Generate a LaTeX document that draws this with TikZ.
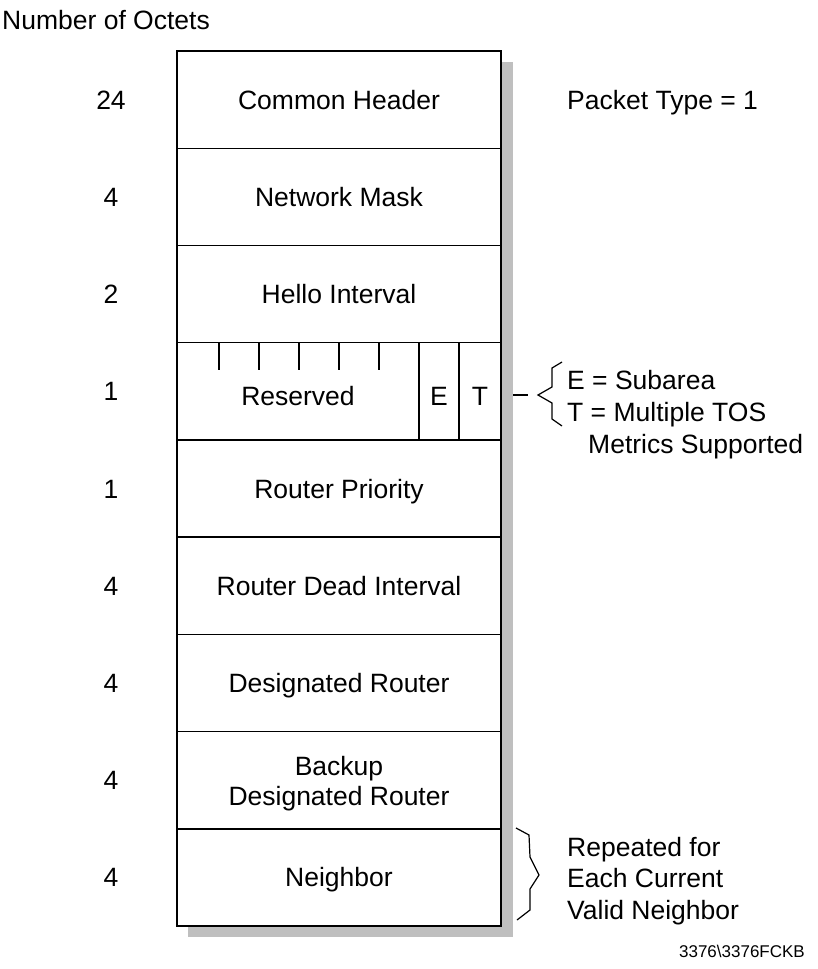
\documentclass[tikz,border=0pt]{standalone}
\usepackage{fontspec}
\setmainfont{Liberation Sans}
\tikzset{
  box/.style={draw,line width=1.4pt,fill=white,minimum width=324pt,minimum height=97.2pt,
    inner sep=0pt,align=center,font=\fontsize{26.5}{30}\selectfont},
  field/.style={box,text height=19pt,text depth=0pt},
  cell/.style={box,minimum width=40pt},
  octets/.style={font=\fontsize{26.5}{30}\selectfont,text height=19pt,text depth=0pt},
  note/.style={anchor=west,inner sep=0pt,font=\fontsize{26.5}{30}\selectfont,
    text height=19pt,text depth=0pt}
}
\begin{document}
\begin{tikzpicture}[x=1pt,y=-1pt]
  \useasboundingbox (0,0) rectangle (818,969);
  % shadow
  \fill[black!25] (188,62) rectangle (513,937);
  % rows
  \node[field] (hdr) at (339,99.6) {Common Header};
  \node[field] (mask) at (339,196.8) {Network Mask};
  \node[field] (hello) at (339,294.0) {Hello Interval};
  \node[box] (resv) at (339,391.3) {};
  \node[field] (prio) at (339,488.5) {Router Priority};
  \node[field] (dead) at (339,585.7) {Router Dead Interval};
  \node[field] (dr) at (339,682.9) {Designated Router};
  \node[box] (bdr) at (339,780.1) {};
  \node[align=center,font=\fontsize{26.5}{30}\selectfont] (bdrtxt) at (339,784)
    {Backup\\Designated Router};
  \node[field] (nbr) at (339,877.4) {Neighbor};
  % reserved bits
  \node[cell] (ebit) at (439,391.3) {};
  \node[cell,minimum width=42pt] (tbit) at (480,391.3) {};
  \node[octets] (etxt) at (ebit |- 0,396) {E};
  \node[octets] (ttxt) at (tbit |- 0,396) {T};
  \node[octets] (resvtxt) at (298,396) {Reserved};
  \foreach \x in {219,259,299,339,379}
    \draw[line width=1.4pt] (\x,342) -- (\x,370);
  % octet counts
  \node[octets,anchor=west,inner sep=0pt] (title) at (2,20) {Number of Octets};
  \node[octets] (n1) at (111,99.6) {24};
  \node[octets] (n2) at (111,196.8) {4};
  \node[octets] (n3) at (111,294.0) {2};
  \node[octets] (n4) at (111,391.3) {1};
  \node[octets] (n5) at (111,488.5) {1};
  \node[octets] (n6) at (111,585.7) {4};
  \node[octets] (n7) at (111,682.9) {4};
  \node[octets] (n8) at (111,780.1) {4};
  \node[octets] (n9) at (111,877.4) {4};
  % notes
  \node[note] (ptype) at (567,100) {Packet Type = 1};
  \draw[line width=1.2pt] (513,395) -- (528,395);
  \draw[line width=1.2pt] (562,362) -- (552,368) -- (552,387) -- (538,395)
    -- (552,403) -- (552,419) -- (562,426);
  \node[note] (esub) at (567,380) {E = Subarea};
  \node[note] (ttos) at (567,412) {T = Multiple TOS};
  \node[note] (tmet) at (588,444) {Metrics Supported};
  \draw[line width=1.2pt] (516,828) -- (529,835) -- (530,857) -- (539,875)
    -- (530,889) -- (530,910) -- (517,920);
  \node[note] (rep1) at (567,847) {Repeated for};
  \node[note] (rep2) at (567,878) {Each Current};
  \node[note] (rep3) at (567,910) {Valid Neighbor};
  \node[anchor=east,inner sep=0pt,font=\fontsize{17}{20}\selectfont] (fig) at (805,951)
    {3376\textbackslash 3376FCKB};
\end{tikzpicture}
\end{document}
